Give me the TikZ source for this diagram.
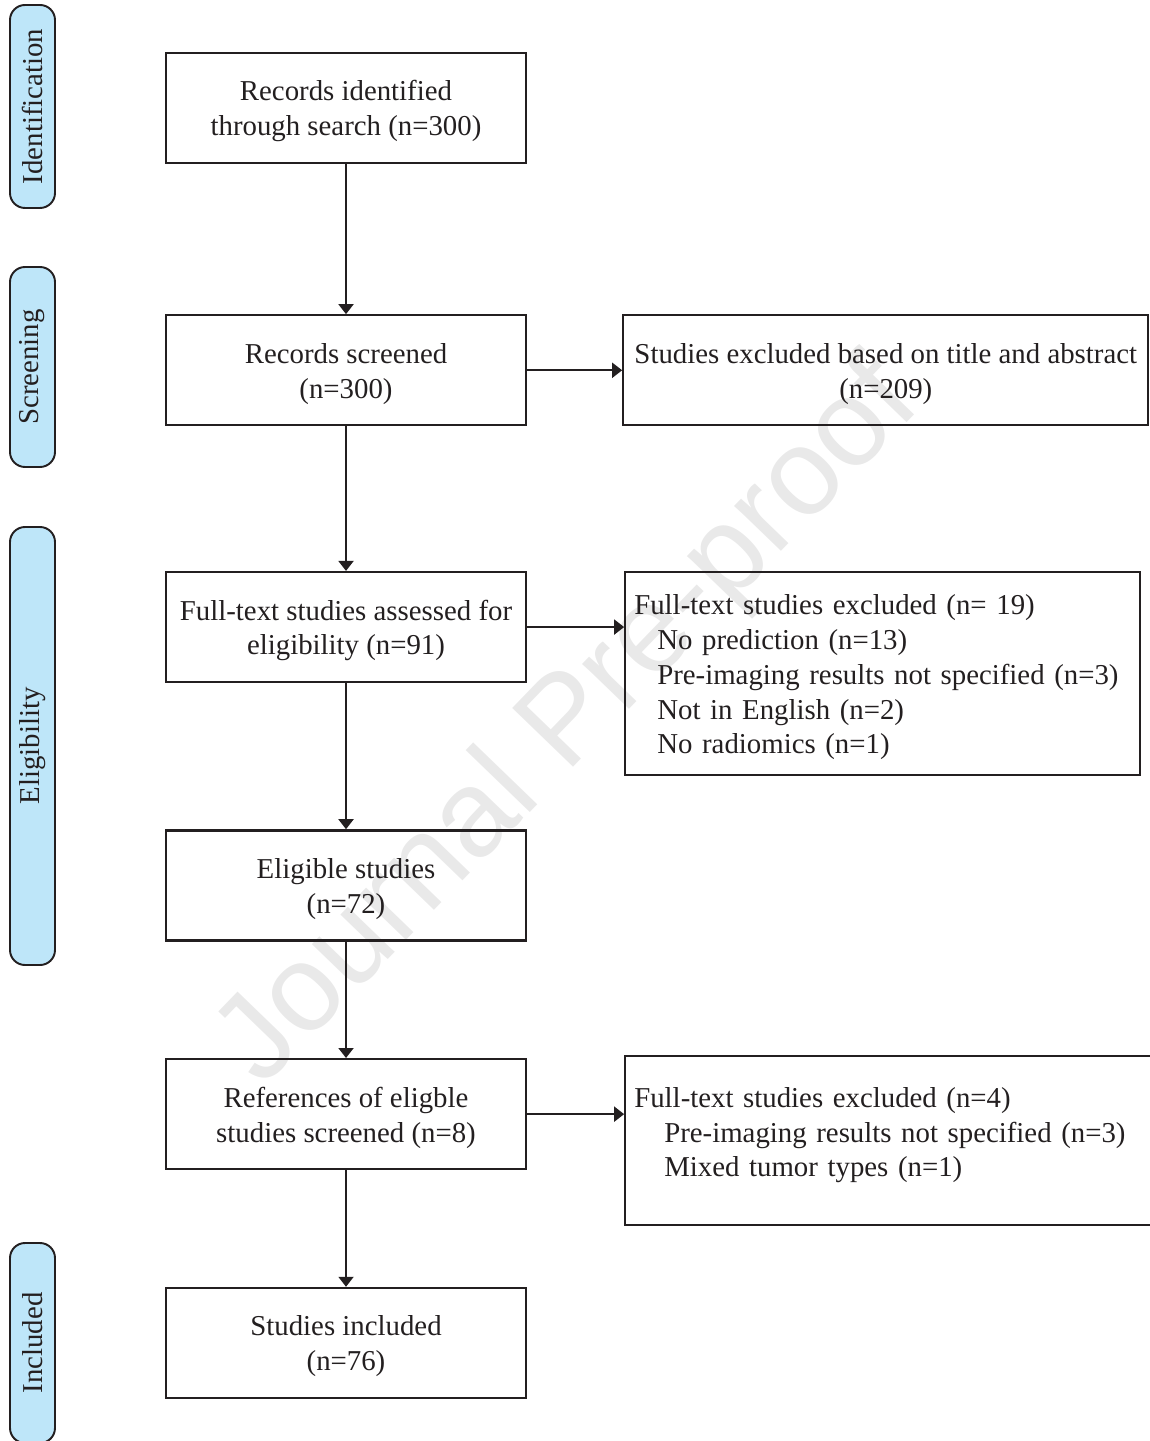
\documentclass[tikz,border=0pt]{standalone}
\usepackage{fontspec}
\setmainfont{Liberation Serif}
\newfontfamily\marksans{Liberation Sans}
\usepackage{tikz}
\usetikzlibrary{arrows.meta,positioning}

\definecolor{ink}{RGB}{35,31,32}
\definecolor{phaseblue}{RGB}{190,230,249}
\definecolor{markgray}{RGB}{233,233,233}

\tikzset{
	stage/.style={draw=ink, line width=1.3pt, text width=7.2cm, minimum height=2.2cm,
		align=flush center, inner sep=0pt, text=ink, execute at begin node={\rule{0pt}{15.4pt}}},
	excl/.style={draw=ink, line width=1.3pt, align=left, inner xsep=0.18cm, inner ysep=0pt, text=ink,
		execute at begin node={\rule{0pt}{15.6pt}}},
	phase/.style={draw=ink, line width=1.1pt, fill=phaseblue, rounded corners=0.3cm,
		rotate=90, minimum height=0.9cm, inner sep=0pt, text=ink},
	flow/.style={-{Triangle[length=0.2cm, width=0.3cm]}, line width=1.1pt, color=ink},
}

\begin{document}
\begin{tikzpicture}[font=\fontsize{16.4}{19.85}\selectfont]
				\useasboundingbox (0,0) rectangle (22.98,-28.82);
				% watermark
				\node[text=markgray, rotate=46, font=\marksans\fontsize{70}{70}\selectfont]
					(wmark) at (11.4,-14.5) {Journal Pre-proof};

				% phases
				\node[phase, minimum width=4.06cm] (idphase) at (0.65,-2.13) {Identification};
				\node[phase, minimum width=4.0cm] (scphase) at (0.65,-7.34) {Screening};
				\node[phase, minimum width=8.76cm] (elphase) at (0.65,-14.92) {Eligibility};
				\node[phase, minimum width=4.0cm] (inphase) at (0.65,-26.86) {Included};

				% main column
				\node[stage] (ident) at (6.92,-2.16) {Records identified\\through search (n=300)};
				\node[stage, below=3.0cm of ident] (screen) {Records screened\\(n=300)};
				\node[stage, below=2.89cm of screen] (fulltext) {Full-text studies assessed for\\eligibility (n=91)};
				\node[stage, below=2.92cm of fulltext] (eligible) {Eligible studies\\(n=72)};
				\node[stage, below=2.33cm of eligible] (refs) {References of eligble\\studies screened (n=8)};
				\node[stage, below=2.33cm of refs] (included) {Studies included\\(n=76)};

				% exclusions
				\node[excl, align=flush center, text width=10.5cm, minimum height=2.2cm, inner xsep=0pt,
					right=1.9cm of screen] (byabstract) {Studies excluded based on title and abstract\\(n=209)};
				\node[excl, text width=9.94cm, minimum height=4.06cm,
					right=1.94cm of fulltext.north east, anchor=north west] (ftexcl)
					{Full-text studies excluded (n= 19)\\
					\hspace*{0.46cm}No prediction (n=13)\\
					\hspace*{0.46cm}Pre-imaging results not specified (n=3)\\
					\hspace*{0.46cm}Not in English (n=2)\\
					\hspace*{0.46cm}No radiomics (n=1)};
				\node[excl, text width=10.5cm, minimum height=3.38cm,
					right=1.94cm of refs.north east, anchor=north west, yshift=0.06cm] (refexcl)
					{Full-text studies excluded (n=4)\\
					\hspace*{0.6cm}Pre-imaging results not specified (n=3)\\
					\hspace*{0.6cm}Mixed tumor types (n=1)\rule[-0.49cm]{0pt}{0.1cm}};

				\path[flow]
				(ident) edge (screen)
				(screen) edge (fulltext)
						edge (byabstract)
				(fulltext) edge (eligible)
				(fulltext.east) edge (fulltext.east -| ftexcl.west)
				(eligible) edge (refs)
				(refs) edge (included)
				(refs.east) edge (refs.east -| refexcl.west);
\end{tikzpicture}
\end{document}
